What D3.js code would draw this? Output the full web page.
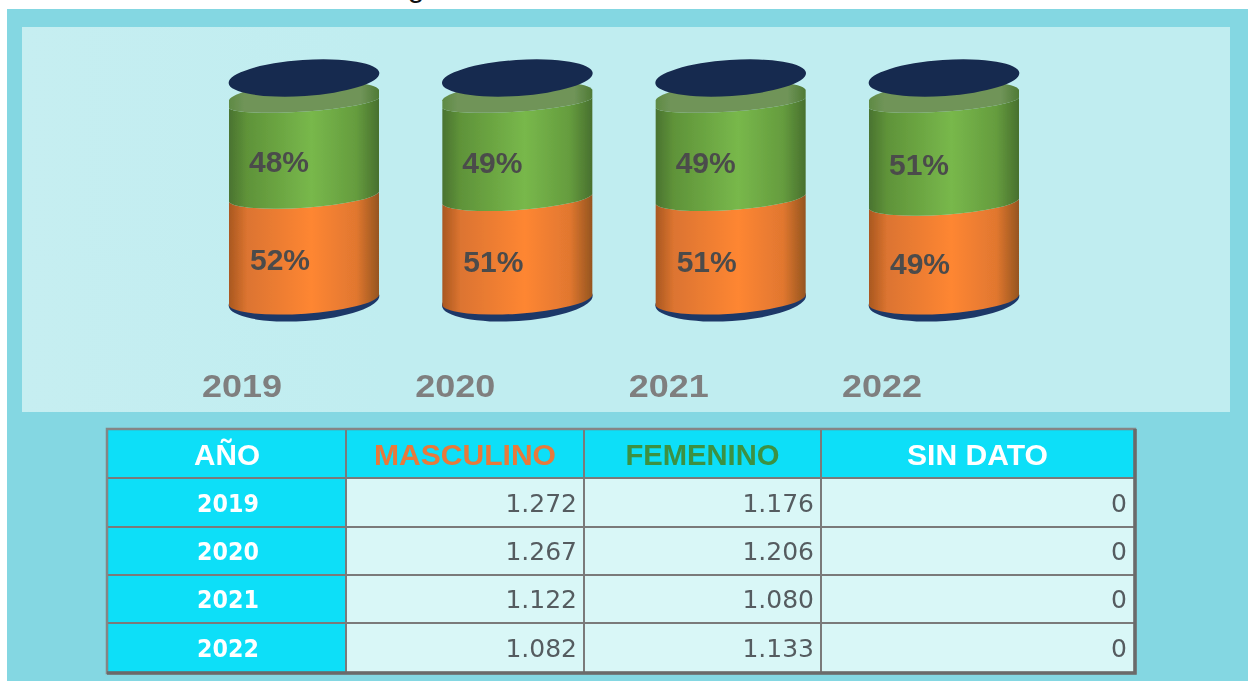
<!DOCTYPE html>
<html><head><meta charset="utf-8">
<script src="https://cdn.jsdelivr.net/npm/d3@7"></script>
<style>html,body{margin:0;padding:0;background:#fff;overflow:hidden}svg{display:block}text{font-family:"Liberation Sans",Arial,sans-serif}</style>
</head><body><svg id="c" width="1248" height="681"></svg>
<script>
const years = ["2019","2020","2021","2022"];
const masculino = [1272,1267,1122,1082];
const femenino = [1176,1206,1080,1133];
const sinDato = [0,0,0,0];
const pctMasculino = [52,51,51,49];
const pctFemenino = [48,49,49,51];
const headers = ["AÑO","MASCULINO","FEMENINO","SIN DATO"];
const headerColors = ["#ffffff","#e8793a","#3d9142","#ffffff"];

const svg = d3.select("#c");
const defs = svg.append("defs");
function grad(id, stops){
  const g = defs.append("linearGradient").attr("id",id).attr("x1",0).attr("x2",1).attr("y1",0).attr("y2",0);
  stops.forEach(s=>g.append("stop").attr("offset",s[0]).attr("stop-color",s[1]));
}
grad("gGreen",[[0,"#4a7330"],[.12,"#5f9339"],[.55,"#78b84b"],[.85,"#659c3e"],[1,"#48702e"]]);
grad("gOrange",[[0,"#a95820"],[.12,"#dc7430"],[.55,"#fe8633"],[.85,"#e1772f"],[1,"#95551f"]]);
grad("gTop",[[0,"#5f8a44"],[.1,"#6f9458"],[.88,"#6f9458"],[1,"#4f7a35"]]);
grad("gPanel",[[0,"#c6eef1"],[.3,"#c0edf0"],[1,"#c0edf0"]]);
const soft = defs.append("filter").attr("id","soft").attr("x","-2%").attr("y","-2%").attr("width","104%").attr("height","104%");
soft.append("feGaussianBlur").attr("stdDeviation",0.55);

// page furniture
svg.append("rect").attr("width",1248).attr("height",681).attr("fill","#ffffff");
svg.append("text").attr("x",416).attr("y",-3).attr("text-anchor","middle").attr("font-size",30).attr("fill","#111").text("g");
const root = svg.append("g").attr("filter","url(#soft)");
root.append("rect").attr("x",7).attr("y",9).attr("width",1245).attr("height",676).attr("fill","#84d7e2");
root.append("rect").attr("x",22).attr("y",27).attr("width",1208).attr("height",385).attr("fill","url(#gPanel)");

// cylinders
const x = d3.scalePoint().domain(years).range([304,944]);
const y = d3.scaleLinear().domain([0,100]).range([318,85]);
const halfW = 75, tilt = 5.2, tiltDeg = -3.9;
const baseShare = 7.5, topShare = 92.3;
function band(cx, yLow, yHigh, bulgeLow, bulgeHigh){
  const xl=cx-halfW, xr=cx+halfW;
  return `M${xl},${yHigh+tilt}A${halfW+.5},${bulgeHigh} ${tiltDeg} 0 0 ${xr},${yHigh-tilt}`+
         `L${xr},${yLow-tilt}A${halfW+.5},${bulgeLow} ${tiltDeg} 0 1 ${xl},${yLow+tilt}Z`;
}
function cap(cx, yT, bulge, rise){
  const xl=cx-halfW, xr=cx+halfW;
  return `M${xl},${yT+tilt}A${halfW+.5},${bulge} ${tiltDeg} 0 0 ${xr},${yT-tilt}`+
         `L${xr},${yT-tilt-rise}A${halfW+.5},14 ${tiltDeg} 0 0 ${xl},${yT+tilt-rise}Z`;
}
const cyl = root.selectAll("g.cyl").data(years).join("g").attr("class","cyl");
const ell = (sel,cx,cy,ry,fill)=>sel.append("ellipse").attr("cx",0).attr("cy",0).attr("rx",halfW+.5).attr("ry",ry)
   .attr("transform",`translate(${cx},${cy}) rotate(${tiltDeg})`).attr("fill",fill);
cyl.each(function(yr,i){
  const g=d3.select(this), cx=x(yr);
  const yB=y(baseShare), yT=y(topShare), yM=y(pctMasculino[i]);
  ell(g,cx,yB,20.5,"#1f3767");
  g.append("path").attr("d",band(cx,yB,yM,14.5,12)).attr("fill","url(#gOrange)");
  g.append("path").attr("d",band(cx,yM,yT,12,9.5)).attr("fill","url(#gGreen)");
  g.append("path").attr("d",cap(cx,yT,9.5,8)).attr("fill","url(#gTop)");
  ell(g,cx,78,18,"#18294f");
  g.append("text").attr("x",cx-25).attr("y",(yT+yM)/2+11).attr("dy",".36em").attr("text-anchor","middle")
    .attr("font-size",30).attr("font-weight",700).attr("fill","#4b4b4b").text(pctFemenino[i]+"%");
  g.append("text").attr("x",cx-24).attr("y",(yB+yM)/2+11).attr("dy",".36em").attr("text-anchor","middle")
    .attr("font-size",30).attr("font-weight",700).attr("fill","#4b4b4b").text(pctMasculino[i]+"%");
});
root.selectAll("text.yr").data(years).join("text").attr("class","yr")
  .attr("x",d=>x(d)-62).attr("y",397).attr("text-anchor","middle")
  .attr("font-size",32).attr("font-weight",700).attr("fill","#7f7f7f")
  .attr("textLength",80).attr("lengthAdjust","spacingAndGlyphs").text(d=>d);

// table
const colEdges = [108,346,584,821,1134];
const rowEdges = [430,478,527,575,623,672];
const rows = years.map((yr,i)=>[yr,masculino[i],femenino[i],sinDato[i]]);
const fmt = d3.formatLocale({decimal:",",thousands:".",grouping:[3],currency:["",""]}).format(",d");
const t = root.append("g");
for(let c=0;c<4;c++) for(let r=0;r<5;r++){
  t.append("rect").attr("x",colEdges[c]).attr("y",rowEdges[r])
    .attr("width",colEdges[c+1]-colEdges[c]).attr("height",rowEdges[r+1]-rowEdges[r])
    .attr("fill",(r===0||c===0)?"#08dff8":"#d9f7f7");
}
colEdges.slice(1,4).forEach(v=>t.append("line").attr("x1",v).attr("x2",v).attr("y1",rowEdges[0]).attr("y2",rowEdges[5]).attr("stroke","#7a7a7a").attr("stroke-width",2));
rowEdges.slice(1,5).forEach(v=>t.append("line").attr("y1",v).attr("y2",v).attr("x1",colEdges[0]).attr("x2",colEdges[4]).attr("stroke","#7a7a7a").attr("stroke-width",2));
t.append("rect").attr("x",107).attr("y",429).attr("width",1028).attr("height",244).attr("fill","none").attr("stroke","#858585").attr("stroke-width",2.5);
t.append("path").attr("d","M107,673H1135V429").attr("fill","none").attr("stroke","#6a6a6a").attr("stroke-width",3.5);
const hw=[66,182,154,141];
headers.forEach((h,c)=>{
  t.append("text").attr("x",(colEdges[c]+colEdges[c+1])/2).attr("y",465).attr("text-anchor","middle")
   .attr("font-size",29).attr("font-weight",700).attr("fill",headerColors[c])
   .attr("textLength",hw[c]).attr("lengthAdjust","spacingAndGlyphs").text(h);
});
rows.forEach((row,r)=>{
  const by=(rowEdges[r+1]+rowEdges[r+2])/2+9;
  t.append("text").attr("x",228).attr("y",by).attr("text-anchor","middle")
    .style("font-family","'DejaVu Sans'").attr("font-size",25).attr("font-weight",700).attr("fill","#ffffff")
    .attr("textLength",62).attr("lengthAdjust","spacingAndGlyphs").text(row[0]);
  row.slice(1).forEach((v,c)=>{
    t.append("text").attr("x",colEdges[c+2]-7).attr("y",by).attr("text-anchor","end")
     .style("font-family","'DejaVu Sans'").attr("font-size",25).attr("fill","#555c60").text(fmt(v));
  });
});
</script></body></html>
